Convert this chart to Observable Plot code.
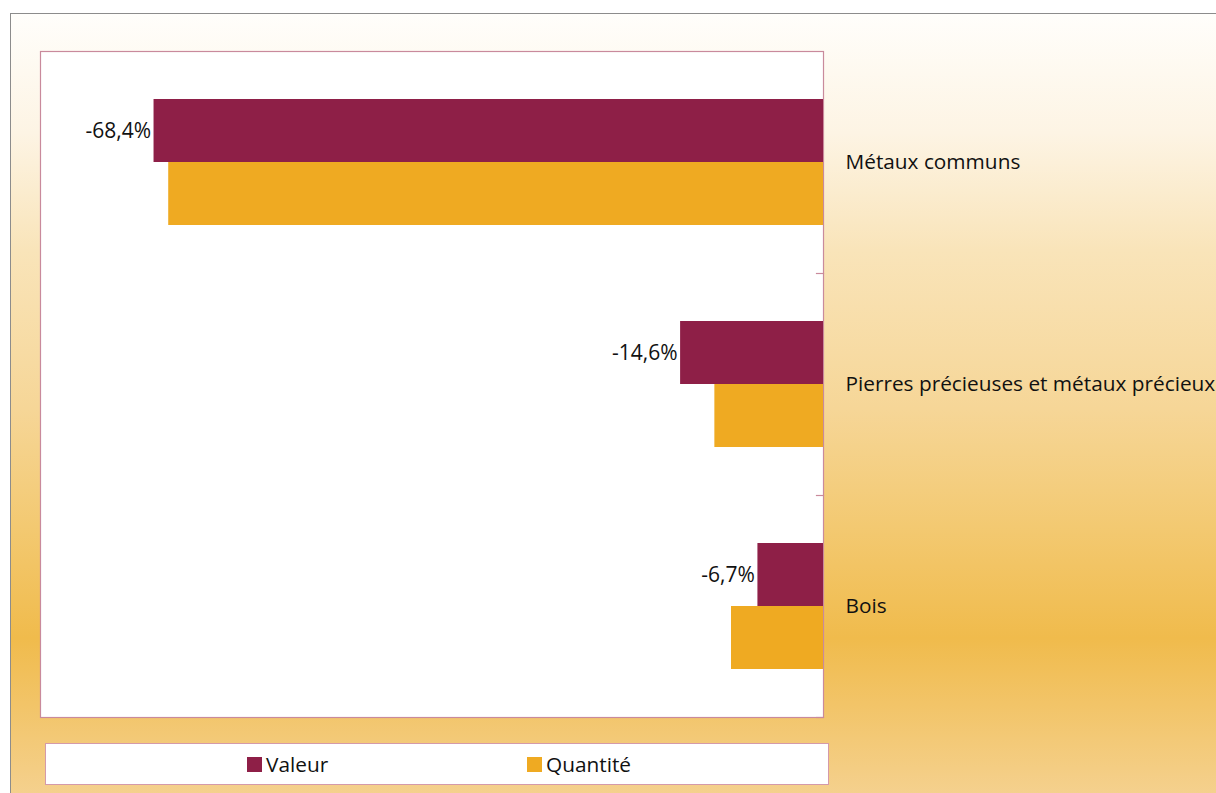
<!DOCTYPE html>
<html>
<head>
<meta charset="utf-8">
<script src="https://cdn.jsdelivr.net/npm/d3@7"></script>
<script src="https://cdn.jsdelivr.net/npm/@observablehq/plot@0.6"></script>
<style>
  html, body { margin: 0; padding: 0; background: #ffffff; }
  body { width: 1216px; height: 793px; position: relative; overflow: hidden; font-family: "Open Sans", sans-serif; }
  #frame {
    position: absolute; left: 10px; top: 13px; width: 1220px; height: 790px;
    border: 1px solid #8c8c8c;
    background: linear-gradient(to bottom, #fffefb 0%, #fdf4e4 15%, #f9e4b9 30%, #f6d697 50%, #f3c971 65%, #f0bb4c 79%, #f5d292 100%);
  }
  #chart { position: absolute; left: 0; top: 0; }
  #legend {
    position: absolute; left: 45px; top: 743px; width: 782px; height: 40px;
    background: #ffffff; border: 1px solid #d49aaa;
  }
  .item { position: absolute; top: 0; height: 40px; display: flex; align-items: center; gap: 4px; font-size: 20.8px; color: #111; }
  .sw { width: 15px; height: 15px; display: inline-block; }
</style>
</head>
<body>
<div id="frame"></div>
<div id="chart"></div>
<div id="legend"></div>
<script>
const categories = ["Métaux communs", "Pierres précieuses et métaux précieux", "Bois"];
const series = ["Valeur", "Quantité"];
const valeur = [-68.4, -14.6, -6.7];
const quantite = [-66.9, -11.1, -9.4];
const colors = ["#8e1f47", "#efaa22"];

const rows = [];
categories.forEach((c, i) => {
  rows.push({category: c, series: series[0], value: valeur[i]});
  rows.push({category: c, series: series[1], value: quantite[i]});
});
const fmt = v => v.toFixed(1).replace(".", ",") + "%";

const W = 1216, H = 730;
const mL = 40, mT = 50, mR = 393, mB = 12;

const chart = Plot.plot({
  width: W, height: H,
  marginLeft: mL, marginTop: mT, marginRight: mR, marginBottom: mB,
  style: {background: "transparent", fontFamily: "'Open Sans', sans-serif", color: "#111"},
  x: {domain: [-80, 0], axis: null},
  y: {domain: series, axis: null, paddingInner: 0, paddingOuter: 0.753},
  fy: {domain: categories, padding: 0, axis: null},
  color: {domain: series, range: colors},
  marks: [
    Plot.frame({facet: "super", fill: "#ffffff", stroke: "#c98a9c", strokeWidth: 1.2}),
    Plot.barX(rows, {x: "value", y: "series", fy: "category", fill: "series"}),
    Plot.text(rows.filter(d => d.series === series[0]), {
      x: "value", y: "series", fy: "category", text: d => fmt(d.value),
      textAnchor: "end", dx: -3, fontSize: 21, fill: "#111"
    }),
    Plot.frame({anchor: "bottom", insetLeft: W - mL - mR - 7, stroke: "#c98a9c", strokeWidth: 1.2}),
    Plot.axisFy({anchor: "right", tickSize: 0, tickPadding: 0, dx: 22, textAnchor: "start", fontSize: 20.8, label: null, fill: "#111"})
  ]
});
document.getElementById("chart").appendChild(chart);

const legend = document.getElementById("legend");
const itemLeft = [201, 481];
series.forEach((s, i) => {
  const it = document.createElement("div");
  it.className = "item";
  it.style.left = itemLeft[i] + "px";
  it.innerHTML = `<span class="sw" style="background:${colors[i]}"></span><span>${s}</span>`;
  legend.appendChild(it);
});
</script>
</body>
</html>
